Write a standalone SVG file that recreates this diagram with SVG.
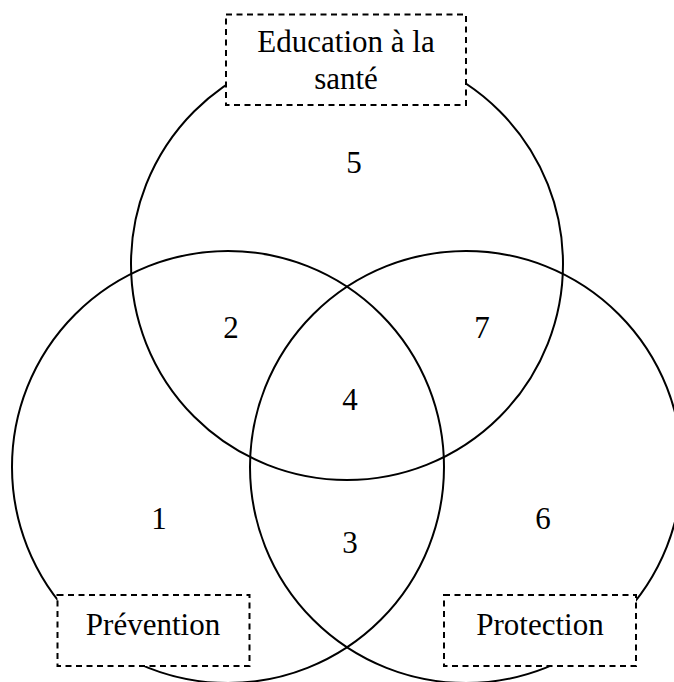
<svg xmlns="http://www.w3.org/2000/svg" width="674" height="682" viewBox="0 0 674 682">
<style>
.c{fill:none;stroke:#000;stroke-width:2}
.b{fill:#fff;stroke:#000;stroke-width:2;stroke-dasharray:6 4.5}
text{font-family:"Liberation Serif","Times New Roman",serif;font-size:31px;fill:#000;text-anchor:middle}
</style>
<rect width="674" height="682" fill="#fff"/>
<g id="sets">
<circle id="set-education" class="c" cx="347" cy="264" r="216"/>
<circle id="set-prevention" class="c" cx="228" cy="467" r="216"/>
<circle id="set-protection" class="c" cx="466" cy="467" r="216"/>
</g>
<g id="regions">
<text x="354" y="173">5</text>
<text x="231" y="338">2</text>
<text x="482" y="338">7</text>
<text x="350" y="410">4</text>
<text x="159" y="529">1</text>
<text x="543" y="529">6</text>
<text x="350" y="553">3</text>
</g>
<g id="label-education">
<rect class="b" x="226" y="14.5" width="240" height="90.5"/>
<text x="346" y="52">Education à la</text>
<text x="346" y="89">santé</text>
</g>
<g id="label-prevention">
<rect class="b" x="57.5" y="595" width="192" height="71"/>
<text x="153" y="635">Prévention</text>
</g>
<g id="label-protection">
<rect class="b" x="444" y="595" width="192" height="71"/>
<text x="540" y="635">Protection</text>
</g>
</svg>
